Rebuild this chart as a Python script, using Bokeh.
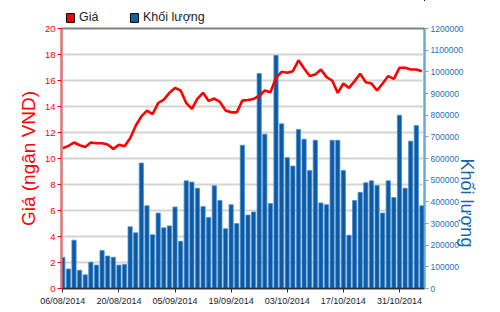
import math
from bokeh.plotting import figure
from bokeh.layouts import column
from bokeh.models import (Range1d, LinearAxis, FixedTicker, NumeralTickFormatter,
                          Legend, LegendItem, ColumnDataSource)
from bokeh.embed import file_html
from bokeh.resources import INLINE

# ---- data ----
price = [10.79, 10.97, 11.23, 11.02, 10.89, 11.23, 11.17, 11.17, 11.07, 10.74,
         11.05, 10.94, 11.56, 12.52, 13.24, 13.68, 13.42, 14.27, 14.53, 15.05,
         15.43, 15.23, 14.27, 13.81, 14.61, 15.05, 14.43, 14.61, 14.35, 13.70,
         13.55, 13.55, 14.45, 14.50, 14.58, 14.81, 15.23, 15.10, 16.21, 16.67,
         16.59, 16.72, 17.55, 16.93, 16.34, 16.46, 16.85, 16.26, 16.00, 15.05,
         15.77, 15.43, 15.95, 16.52, 15.87, 15.77, 15.23, 15.77, 16.34, 16.13,
         16.98, 16.98, 16.85, 16.85, 16.72]
volume = [144000, 90000, 223000, 84000, 63000, 121000, 108000, 175000, 150000, 144000,
          108000, 111000, 285000, 257000, 579000, 382000, 248000, 348000, 280000, 289000,
          376000, 218000, 497000, 491000, 463000, 378000, 328000, 474000, 406000, 276000,
          387000, 300000, 661000, 339000, 353000, 992000, 712000, 392000, 1076000, 760000,
          604000, 565000, 734000, 689000, 545000, 684000, 395000, 387000, 684000, 684000,
          545000, 246000, 406000, 444000, 488000, 497000, 475000, 348000, 497000, 420000,
          800000, 463000, 680000, 752000, 382000]
tick_labels = ["06/08/2014", "20/08/2014", "05/09/2014", "19/09/2014",
               "03/10/2014", "17/10/2014", "31/10/2014"]
tick_step = 10

idx = list(range(len(price)))
src = ColumnDataSource(dict(x=idx, price=price, volume=volume))

RED = "#ff0000"
BLUE = "#0b5aa6"

# ---- legend strip (separate small figure; its ranges show none of the data) ----
lg = figure(width=500, height=24, output_backend="svg", toolbar_location=None,
            x_range=Range1d(-3, -2), y_range=Range1d(-3, -2),
            x_axis_location=None, y_axis_location=None,
            min_border_left=0, min_border_right=0, min_border_top=0, min_border_bottom=0)
lg.outline_line_color = None
lg.grid.visible = False
lg.background_fill_color = "white"
lg.border_fill_color = "white"
sw_red = lg.vbar(x="x", top="price", width=0.75, source=src,
                 fill_color=RED, line_color="black")
sw_blue = lg.vbar(x="x", top="volume", width=0.75, source=src,
                  fill_color="#0a64a8", line_color="black")
legend = Legend(items=[LegendItem(label="Giá", renderers=[sw_red]),
                       LegendItem(label="Khối lượng", renderers=[sw_blue])],
                location=(4, 0), orientation="horizontal",
                border_line_alpha=0, background_fill_alpha=0, padding=0, margin=0,
                spacing=30, glyph_width=10, glyph_height=11, label_standoff=4,
                label_height=12, label_text_font="Liberation Sans",
                label_text_font_size="12.5px", label_text_color="#222222")
lg.add_layout(legend, "center")

# ---- main chart ----
p = figure(width=500, height=288, output_backend="svg", toolbar_location=None,
           x_range=Range1d(-0.23, 64.46), y_range=Range1d(0, 20),
           min_border_left=61, min_border_right=76, min_border_top=4, min_border_bottom=24)
p.extra_y_ranges = {"vol": Range1d(0, 1200000)}
p.background_fill_color = "white"
p.border_fill_color = "white"
p.outline_line_color = "#808080"
p.outline_line_width = 2

bars = p.vbar(x="x", top="volume", width=0.75, source=src, y_range_name="vol",
              fill_color=BLUE, line_color="#4d8fd1", line_width=0.8)
line = p.line(x="x", y="price", source=src, line_color=RED, line_width=2.6)

p.xgrid.visible = False
p.ygrid.grid_line_color = "#d4d4d4"
p.ygrid.grid_line_width = 2

# left axis
la = p.yaxis[0]
la.ticker = FixedTicker(ticks=list(range(0, 21, 2)))
la.axis_label = "Giá (ngân VND)"
la.axis_label_text_color = RED
la.axis_label_text_font = "Liberation Sans"
la.axis_label_text_font_style = "normal"
la.axis_label_text_font_size = "19px"
la.axis_label_standoff = 3
la.axis_line_color = "#ff6a6a"
la.axis_line_width = 2
la.major_tick_line_color = RED
la.major_tick_out = 4
la.major_tick_in = 0
la.minor_tick_line_color = None
la.major_label_text_color = RED
la.major_label_text_font = "Liberation Sans"
la.major_label_text_font_size = "9.5px"
la.major_label_standoff = 2

# right axis
ra = LinearAxis(y_range_name="vol", ticker=FixedTicker(ticks=list(range(0, 1200001, 100000))),
                formatter=NumeralTickFormatter(format="0"))
ra.axis_label = "Khối lượng"
ra.axis_label_orientation = -math.pi / 2
ra.axis_label_text_color = "#1565a8"
ra.axis_label_text_font = "Liberation Sans"
ra.axis_label_text_font_style = "normal"
ra.axis_label_text_font_size = "18px"
ra.axis_label_standoff = 0
ra.axis_line_color = "#6aa6d6"
ra.axis_line_width = 1.5
ra.major_tick_line_color = "#6aa6d6"
ra.major_tick_out = 4
ra.major_tick_in = 0
ra.minor_tick_line_color = None
ra.major_label_text_color = "#1f6fb5"
ra.major_label_text_font = "Liberation Sans"
ra.major_label_text_font_size = "8.5px"
ra.major_label_standoff = 2
p.add_layout(ra, "right")

# bottom axis
xa = p.xaxis[0]
xa.ticker = FixedTicker(ticks=[i * tick_step for i in range(len(tick_labels))])
xa.major_label_overrides = {i * tick_step: lab for i, lab in enumerate(tick_labels)}
xa.axis_line_color = "#303030"
xa.axis_line_width = 1.5
xa.major_tick_line_color = "#303030"
xa.major_tick_out = 4
xa.major_tick_in = 0
xa.minor_tick_line_color = None
xa.major_label_text_color = "#222222"
xa.major_label_text_font = "Liberation Sans"
xa.major_label_text_font_size = "9px"
xa.major_label_standoff = 3

layout = column(lg, p, spacing=0)
open("out.html", "w").write(file_html(layout, INLINE))
